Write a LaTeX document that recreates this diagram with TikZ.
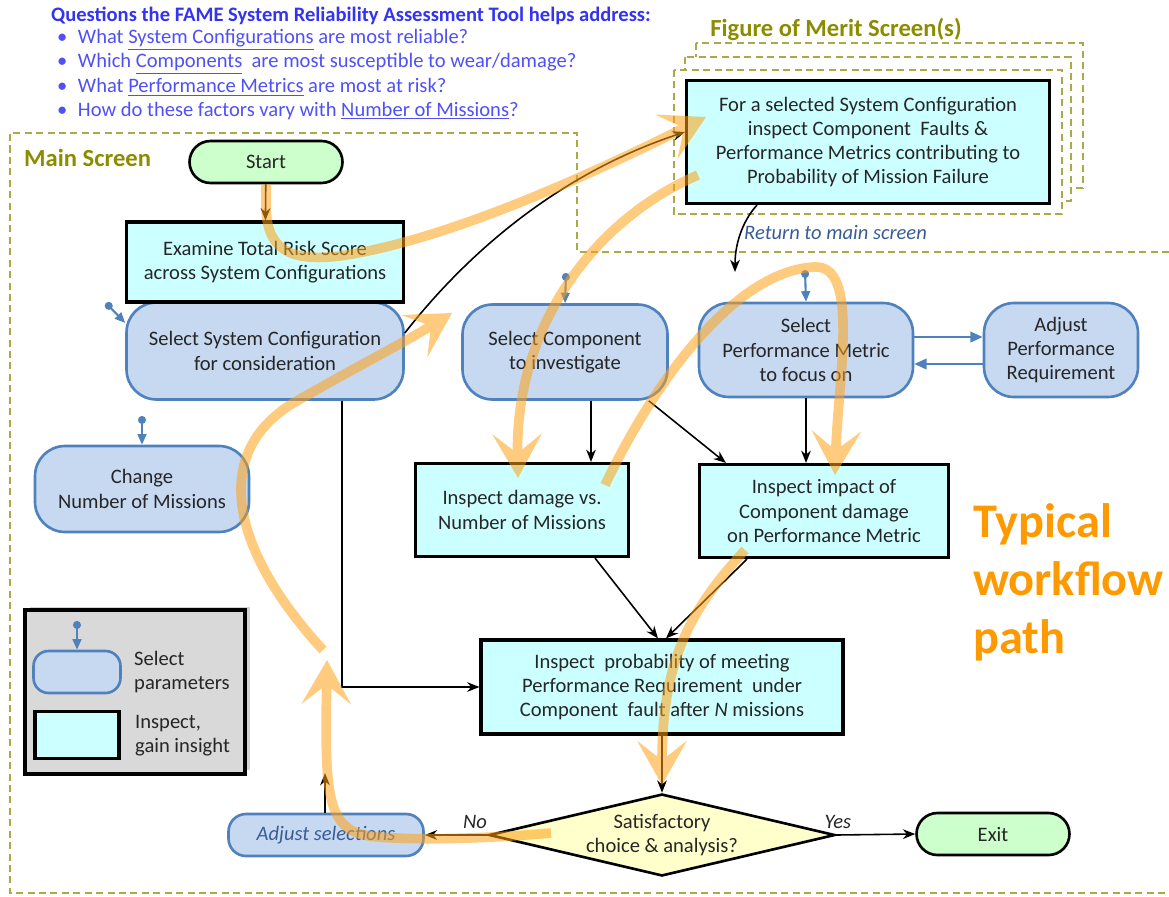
\documentclass[tikz,border=0pt]{standalone}
\usepackage{fontspec}
\setmainfont{Carlito}
\usetikzlibrary{arrows.meta, shapes.geometric, shadows}

\definecolor{cyanfill}{RGB}{204,255,255}
\definecolor{bluefill}{RGB}{198,217,241}
\definecolor{blueline}{RGB}{79,129,189}
\definecolor{greenfill}{RGB}{204,255,204}
\definecolor{yellowfill}{RGB}{255,255,204}
\definecolor{legendgray}{RGB}{217,217,217}
\definecolor{olivetxt}{RGB}{140,140,0}
\definecolor{oliveline}{RGB}{170,170,70}
\definecolor{flowor}{RGB}{255,160,20}
\definecolor{flowtxt}{RGB}{255,153,0}
\definecolor{qhead}{RGB}{51,51,240}
\definecolor{qitem}{RGB}{80,80,245}
\definecolor{retblue}{RGB}{56,93,150}

\newcommand{\diagfont}{\fontsize{11.7}{13.8}\selectfont}

\begin{document}
\begin{tikzpicture}[x=0.02cm, y=-0.02cm,
  every node/.style={font=\diagfont, text=black!85},
  inspect/.style={draw=black, line width=1.8pt, fill=cyanfill, align=center},
  select/.style={draw=blueline, line width=1.5pt, fill=bluefill, rounded corners=0.6cm, align=center},
  terminal/.style={draw=black, line width=1.5pt, fill=greenfill, rounded corners=0.42cm, minimum width=3.06cm, minimum height=0.84cm},
  decide/.style={diamond, draw=black, line width=1.5pt, fill=yellowfill, aspect=4.2, inner sep=0pt, minimum width=6.92cm, minimum height=1.64cm, align=center},
  arr/.style={-{Stealth[length=7pt,width=5.5pt]}, line width=0.9pt},
  pin/.style={{Circle[length=4.5pt]}-{Triangle[length=6pt,width=5pt]}, draw=blueline, line width=1.2pt},
  swap/.style={-{Triangle[length=7pt,width=6pt]}, draw=blueline, line width=1.2pt},
  flow/.style={-{Stealth[length=25pt,width=28pt,inset=11pt]}, draw=flowor, line width=5.5pt},
  screen/.style={draw=oliveline, line width=1pt, dash pattern=on 4pt off 2.5pt},
  olivelbl/.style={text=olivetxt, font=\fontsize{14}{16}\selectfont\bfseries}]
\useasboundingbox (0,0) rectangle (1169,896);

% questions
\node[anchor=west, text=qhead, font=\diagfont\bfseries] (qtitle) at (45,16) {Questions the FAME System Reliability Assessment Tool helps address:};
\foreach \txt [count=\i] in {{What \underline{System Configurations} are most reliable?},
  {Which \underline{Components} \ are most susceptible to wear/damage?},
  {What \underline{Performance Metrics} are most at risk?},
  {How do these factors vary with \underline{Number of Missions}?}}
  \node[anchor=west, text=qitem] (q\i) at (51,16+23.7*\i) {\textbullet\hspace{6pt}\txt};

% screens
\draw[screen] (1169,252) -- (577,252) -- (577,133) -- (10,133) -- (10,893) -- (1169,893);
\node[olivelbl, anchor=west] (mainlbl) at (18,158) {Main Screen};
\node[olivelbl] (fomlbl) at (836,29) {Figure of Merit Screen(s)};
\draw[screen, fill=white] (696,43) rectangle (1083,188);
\draw[screen, fill=white] (685,57) rectangle (1071,201);
\draw[screen, fill=white] (674,70) rectangle (1062,214);
\node[inspect, minimum width=7.26cm, minimum height=2.46cm] (fom) at (868,142) {For a selected System Configuration\\inspect Component \ Faults \&\\Performance Metrics contributing to\\Probability of Mission Failure};

% main screen nodes
\node[terminal] (start) at (266,162) {Start};
\node[select, minimum width=5.54cm, minimum height=1.94cm] (selsys) at (265,351) {Select System Configuration\\for consideration};
\node[inspect, minimum width=5.54cm, minimum height=1.6cm] (examine) at (265,262) {Examine Total Risk Score\\across System Configurations};
\node[select, minimum width=4.28cm, minimum height=1.72cm] (missions) at (142,489) {Change\\Number of Missions};
\node[select, minimum width=4.1cm, minimum height=1.9cm] (selcomp) at (565,352) {Select Component\\to investigate};
\node[select, minimum width=4.28cm, minimum height=1.88cm] (selperf) at (806,350) {Select\\Performance Metric\\to focus on};
\node[select, minimum width=3.08cm, minimum height=1.88cm] (adjperf) at (1061,350) {Adjust\\Performance\\Requirement};
\node[inspect, minimum width=4.26cm, minimum height=1.86cm] (damage) at (522,510) {Inspect damage vs.\\Number of Missions};
\node[inspect, minimum width=4.98cm, minimum height=1.86cm] (impact) at (824,511) {Inspect impact of\\Component damage\\on Performance Metric};
\node[inspect, minimum width=7.24cm, minimum height=1.88cm] (prob) at (662,687) {Inspect \ probability of meeting\\Performance Requirement \ under\\Component \ fault after \textit{N} missions};
\node[decide] (decide) at (662,835) {Satisfactory\\choice \& analysis?};
\node[terminal] (exit) at (993,834) {Exit};
\node[select, rounded corners=0.35cm, minimum width=3.9cm, minimum height=0.84cm, text=retblue, font=\diagfont\itshape] (adjsel) at (326,835) {Adjust selections};

% legend
\node[draw=black, line width=1.8pt, fill=legendgray, minimum width=4.4cm, minimum height=3.28cm, drop shadow={shadow xshift=3pt, shadow yshift=2pt, opacity=0.35}] (legend) at (135,692) {};
\node[select, rounded corners=0.3cm, minimum width=1.74cm, minimum height=0.84cm] (lsel) at (77,672) {};
\node[inspect, minimum width=1.68cm, minimum height=0.94cm] (linsp) at (77,735) {};
\node[anchor=west, align=left] (lseltxt) at (128,672) {Select\\parameters};
\node[anchor=west, align=left] (linsptxt) at (129,736) {Inspect,\\gain insight};

% pins
\coordinate (pinsys) at (106,303);
\coordinate (pinmis) at (142,416);
\coordinate (pincomp) at (566,273);
\coordinate (pinperf) at (805,270);
\coordinate (pinleg) at (77,621);
\draw[pin] (pinsys) -- ([yshift=0.56cm]selsys.west);
\draw[pin] (pinmis) -- (missions.north);
\draw[pin] (pincomp) -- (selcomp.north);
\draw[pin] (pinperf) -- (selperf.north);
\draw[pin] (pinleg) -- (lsel.north);

% connectors
\draw[arr] (start) -- (examine);
\draw[arr] ([yshift=0.36cm]selsys.east) .. controls (450,275) and (540,180) .. ([yshift=0.2cm]fom.west);
\draw[arr] ([xshift=1.54cm]selsys.south) |- (prob.west);
\draw[arr] ([xshift=0.52cm]selcomp.south) -- ([xshift=0.52cm]selcomp.south |- damage.north);
\draw[arr] ([xshift=-0.4cm]selcomp.south east) -- ([xshift=0.56cm]impact.north west);
\draw[arr] (selperf.south) -- (selperf.south |- impact.north);
\draw[swap] ([yshift=0.26cm]selperf.east) -- ([yshift=0.26cm]selperf.east -| adjperf.west);
\draw[swap] ([yshift=-0.28cm]adjperf.west) -- ([yshift=-0.28cm]adjperf.west -| selperf.east);
\draw[arr] ([xshift=1.46cm]damage.south) -- ([xshift=-0.08cm]prob.north);
\draw[arr] ([xshift=-1.54cm]impact.south) -- ([xshift=0.08cm]prob.north);
\draw[arr] (prob) -- (decide);
\draw[arr] (decide.east) -- (exit.west) node[pos=0.02, above, font=\diagfont\itshape] {Yes};
\draw[arr] (decide.west) -- (adjsel.east) node[pos=0.2, above, font=\diagfont\itshape] {No};
\coordinate (retry) at (325,773);
\draw[arr] (adjsel.north -| retry) -- (retry);
\coordinate (back) at (735,272);
\draw[arr] ([xshift=-2.22cm]fom.south) .. controls (745,218) and (735,240) .. (back);
\node[anchor=west, text=retblue, font=\diagfont\itshape] (retlbl) at (738,232) {Return to main screen};

% typical path
\node[anchor=west, align=left, text=flowtxt, font=\fontsize{27.5}{33}\selectfont\bfseries] (typical) at (967,582) {Typical\\workflow\\path};
\begin{scope}[transparency group, opacity=0.55]
\draw[flow] (start.south) -- (266,205) .. controls (266,250) and (290,262) .. (340,256) .. controls (450,240) and (600,170) .. (706,117);
\draw[flow] (698,175) .. controls (590,222) and (515,330) .. (518,478);
\draw[flow] (605,485) .. controls (660,370) and (740,270) .. (815,267) .. controls (860,265) and (838,380) .. (835,475);
\draw[flow] (745,550) .. controls (690,610) and (662,660) .. (662,785);
\draw[flow] (551,833) .. controls (470,840) and (400,840) .. (370,836) .. controls (325,830) and (325,790) .. (327,660);
\draw[flow] (323,650) .. controls (240,560) and (205,460) .. (290,405) .. controls (350,370) and (400,345) .. (452,313);
\end{scope}
\end{tikzpicture}
\end{document}
